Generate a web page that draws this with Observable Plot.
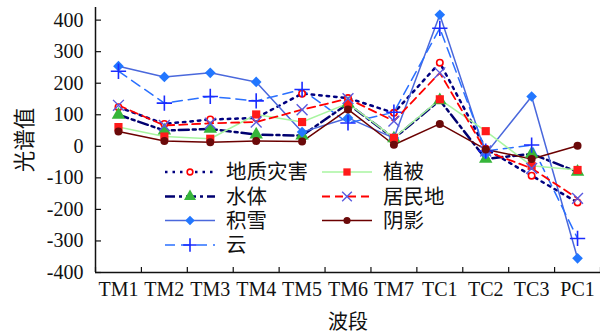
<!DOCTYPE html>
<html><head><meta charset="utf-8">
<script src="https://cdn.jsdelivr.net/npm/d3@7"></script>
<script src="https://cdn.jsdelivr.net/npm/@observablehq/plot@0.6"></script>
<style>body{margin:0;background:#fff}</style>
</head><body><div id="chart"></div>
<script>
const bands = ["TM1","TM2","TM3","TM4","TM5","TM6","TM7","TC1","TC2","TC3","PC1"];
const geoHazard   = [124, 71, 85, 90, 167, 153, 106, 265, -8, -93, -178];
const water       = [100, 50, 55, 37, 34, 135, 25, 146, -40, -24, -81];
const snow        = [254, 220, 233, 204, 45, 90, 26, 417, -24, 158, -355];
const cloud       = [238, 137, 158, 144, 180, 74, 108, 374, -15, 4, -292];
const vegetation  = [61, 31, 24, 101, 77, 136, 27, 149, 48, -62, -75];
const residential = [130, 66, 73, 77, 116, 151, 80, 233, -15, -70, -165];
const shadow      = [47, 17, 13, 17, 15, 117, 5, 71, -10, -40, 2];
const seriesNames = ["地质灾害","水体","积雪","云","植被","居民地","阴影"];
const seriesValues = [geoHazard, water, snow, cloud, vegetation, residential, shadow];
const yTicks = [-400,-300,-200,-100,0,100,200,300,400];
const yLabel = "光谱值";
const xLabel = "波段";

const styles = [
  {stroke:"#000080", width:2.5, dash:"2.5,5", symbol:"circle", mStroke:"#ff0000", mFill:"#ffffff", r:3.2, mw:1.6},
  {stroke:"#000070", width:2.5, dash:"10,4,3,4", symbol:"triangle", mStroke:"none", mFill:"#36b53a", r:5},
  {stroke:"#4a68dc", width:1.5, dash:null, symbol:"diamond2", mStroke:"none", mFill:"#2277ff", r:4.8},
  {stroke:"#2a70ff", width:1.5, dash:"10,6", symbol:"plus", mStroke:"#1a2cff", mFill:"none", r:5, mw:1.6},
  {stroke:"#a8f5a0", width:1.5, dash:null, symbol:"square", mStroke:"none", mFill:"#ff1a1a", r:4.6},
  {stroke:"#ff0000", width:1.8, dash:"8,5", symbol:"times", mStroke:"#5a5ae0", mFill:"none", r:5, mw:1.4},
  {stroke:"#6b0000", width:1.5, dash:null, symbol:"circle", mStroke:"none", mFill:"#6b0a0a", r:4}
];

const W = 600, H = 331, mL = 95, mR = 0, mT = 7, mB = 59;
const font = "Liberation Serif, Noto Sans CJK SC, serif";

const marks = [];
seriesValues.forEach((vals, s) => {
  const st = styles[s];
  const data = bands.map((b, i) => ({i, v: vals[i]}));
  marks.push(Plot.line(data, {x:"i", y:"v", stroke: st.stroke, strokeWidth: st.width, strokeDasharray: st.dash || undefined}));
});
seriesValues.forEach((vals, s) => {
  const st = styles[s];
  const data = bands.map((b, i) => ({i, v: vals[i]}));
  marks.push(Plot.dot(data, {x:"i", y:"v", symbol: st.symbol, r: st.r, fill: st.mFill, stroke: st.mStroke, strokeWidth: st.mw || 1}));
});

const chart = Plot.plot({
  width: W, height: H,
  marginLeft: mL, marginRight: mR, marginTop: mT, marginBottom: mB,
  style: {fontFamily: font, fontSize: "20px", color: "#111", background: "#fff"},
  x: {type: "linear", domain: [-0.5, bands.length - 0.5]},
  y: {domain: [-400, 440]},
  marks: [
    Plot.axisY({ticks: yTicks, tickSize: 0, tickPadding: 12, fontSize: 20, fontFamily: font,
      tickFormat: d => d < 0 ? "-" + Math.abs(d) : String(d), label: null}),
    Plot.axisY({ticks: [], tickSize: 0, fontSize: 21.5, fontFamily: font,
      label: yLabel, labelAnchor: "center", labelArrow: "none", labelOffset: 79}),
    Plot.axisX({ticks: d3.range(bands.length), tickSize: 0, tickPadding: 9, fontSize: 20, fontFamily: font,
      tickFormat: i => bands[i],
      label: xLabel, labelAnchor: "center", labelArrow: "none", labelOffset: 56}),
    Plot.ruleX(d3.range(-0.5, bands.length + 0.5, 1), {insetTop: (H - mT - mB) - 5, stroke: "#111", strokeWidth: 1.2}),
    Plot.ruleY(yTicks, {insetRight: (W - mL - mR) - 6, stroke: "#111", strokeWidth: 1.2}),
    Plot.ruleX([-0.5], {stroke: "#111", strokeWidth: 1.5}),
    Plot.ruleY([-400], {stroke: "#111", strokeWidth: 1.5}),
    ...marks
  ]
});
chart.setAttribute("font-family", font);
document.getElementById("chart").appendChild(chart);

// legend inside plot area
const svg = d3.select(chart);
const g = svg.append("g").attr("font-family", font).attr("font-size", 20.5).attr("fill", "#111").attr("text-anchor", "start");
const cols = [{x0: 165, x1: 215, tx: 226}, {x0: 322, x1: 372, tx: 383}];
const rows = [172, 196.5, 220.5, 245];
const layout = [[0,0],[0,1],[0,2],[0,3],[1,0],[1,1],[1,2]];
const symMap = {circle: d3.symbolCircle, triangle: d3.symbolTriangle, diamond2: d3.symbolDiamond2, plus: d3.symbolPlus, square: d3.symbolSquare, times: d3.symbolTimes};
seriesNames.forEach((name, s) => {
  const st = styles[s];
  const c = cols[layout[s][0]], y = rows[layout[s][1]];
  g.append("line").attr("x1", c.x0).attr("x2", c.x1).attr("y1", y).attr("y2", y)
    .attr("stroke", st.stroke).attr("stroke-width", st.width).attr("stroke-dasharray", st.dash);
  g.append("path").attr("transform", `translate(${(c.x0 + c.x1) / 2},${y})`)
    .attr("d", d3.symbol(symMap[st.symbol], Math.PI * st.r * st.r * 0.8)())
    .attr("fill", st.mFill).attr("stroke", st.mStroke).attr("stroke-width", st.mw || 1);
  g.append("text").attr("x", c.tx).attr("y", y).attr("dy", "0.35em").text(name);
});
</script>
</body></html>
